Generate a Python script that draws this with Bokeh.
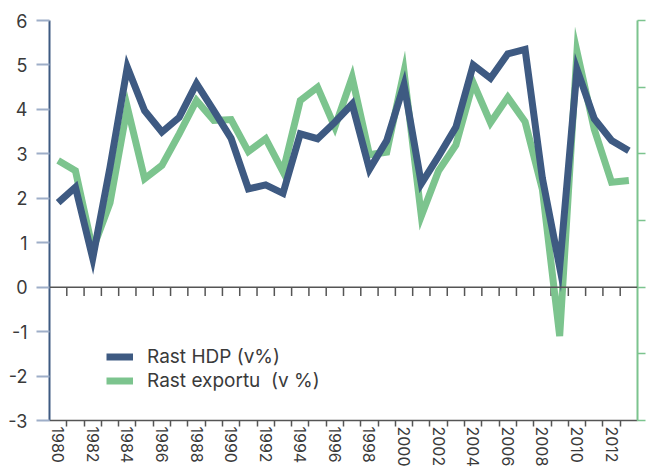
from bokeh.plotting import figure
from bokeh.models import (Range1d, LinearAxis, FixedTicker, Span, Legend, LegendItem)
from bokeh.embed import file_html
from bokeh.resources import INLINE

years = list(range(1980, 2014))
gdp = [1.9, 2.25, 0.65, 2.7, 4.95, 3.97, 3.49, 3.82, 4.58, 3.97, 3.35,
       2.21, 2.3, 2.11, 3.45, 3.34, 3.71, 4.12, 2.65, 3.3, 4.55,
       2.33, 2.95, 3.6, 5.0, 4.7, 5.25, 5.35, 2.45, 0.45, 4.9,
       3.79, 3.3, 3.07]
exports = [2.85, 2.62, 0.85, 1.9, 4.05, 2.44, 2.74, 3.45, 4.2, 3.75, 3.77,
           3.05, 3.34, 2.6, 4.2, 4.5, 3.6, 4.72, 2.98, 3.04, 4.85,
           1.6, 2.62, 3.2, 4.6, 3.7, 4.27, 3.72, 2.2, -1.1, 5.3,
           3.55, 2.36, 2.4]
y_ticks = [-3, -2, -1, 0, 1, 2, 3, 4, 5, 6]
x_label_years = list(range(1980, 2013, 2))
right_ticks = [-15, -10, -5, 0, 5, 10, 15]

BLUE = "#3e5a82"
GREEN = "#7cc48e"
TEXT = "#3a3a3a"
FONT = "Inter"

p = figure(width=646, height=470, output_backend="svg", toolbar_location=None,
           x_range=Range1d(years[0] - 0.5, years[-1] + 0.5),
           y_range=Range1d(y_ticks[0], y_ticks[-1]),
           min_border_left=49, min_border_top=20, min_border_right=9,
           min_border_bottom=50)
p.outline_line_color = None
p.xgrid.visible = False
p.ygrid.visible = False
p.background_fill_color = "white"

# Zero line with its own ticks at year boundaries
boundaries = [y + 0.5 for y in years[:-1]]
p.add_layout(Span(location=0, dimension="width", line_color="#555555", line_width=1.5))
p.segment(x0=boundaries, y0=[0] * len(boundaries), x1=boundaries,
          y1=[-0.2] * len(boundaries), line_color="#555555", line_width=1.5)

g = p.line(years, exports, line_color=GREEN, line_width=7, line_join="miter")
b = p.line(years, gdp, line_color=BLUE, line_width=7, line_join="miter")

# Left axis
ya = p.yaxis[0]
ya.ticker = FixedTicker(ticks=y_ticks)
ya.major_label_overrides = {t: str(t) for t in y_ticks}
ya.axis_line_color = BLUE
ya.axis_line_width = 2
ya.major_tick_line_color = "#9eaec8"
ya.major_tick_line_width = 2
ya.major_tick_out = 13
ya.major_tick_in = 0
ya.minor_tick_line_color = None
ya.major_label_standoff = 9
ya.major_label_text_font = FONT
ya.major_label_text_font_size = "18px"
ya.major_label_text_color = TEXT

# Bottom axis: labels every 2 years, ticks at year boundaries
xa = p.xaxis[0]
xa.ticker = FixedTicker(ticks=x_label_years, minor_ticks=boundaries)
xa.axis_line_color = "#555555"
xa.axis_line_width = 1.5
xa.major_tick_line_color = None
xa.major_tick_out = 6
xa.major_tick_in = 0
xa.minor_tick_line_color = "#555555"
xa.minor_tick_line_width = 1.5
xa.minor_tick_out = 6
xa.minor_tick_in = 0
xa.major_label_orientation = "vertical"
xa.major_label_standoff = 0
xa.major_label_text_font = FONT
xa.major_label_text_font_size = "16px"
xa.major_label_text_color = TEXT

# Right axis (unlabelled)
p.extra_y_ranges = {"right": Range1d(right_ticks[0], right_ticks[-1])}
ra = LinearAxis(y_range_name="right", ticker=FixedTicker(ticks=right_ticks))
ra.major_label_overrides = {t: "" for t in right_ticks}
ra.axis_line_color = GREEN
ra.axis_line_width = 2
ra.major_tick_line_color = GREEN
ra.major_tick_line_width = 1.5
ra.major_tick_out = 8
ra.major_tick_in = 0
ra.minor_tick_line_color = None
ra.major_label_standoff = 0
p.add_layout(ra, "right")

legend = Legend(items=[LegendItem(label="Rast HDP (v%)", renderers=[b]),
                       LegendItem(label="Rast exportu  (v %)", renderers=[g])],
                location=(57, 28))
legend.border_line_color = None
legend.background_fill_alpha = 0
legend.padding = 0
legend.margin = 0
legend.spacing = 1
legend.glyph_width = 27
legend.glyph_height = 21
legend.label_height = 21
legend.label_standoff = 14
legend.label_text_font = FONT
legend.label_text_font_size = "19px"
legend.label_text_color = TEXT
p.add_layout(legend, "center")

open("out.html", "w").write(file_html(p, INLINE))
